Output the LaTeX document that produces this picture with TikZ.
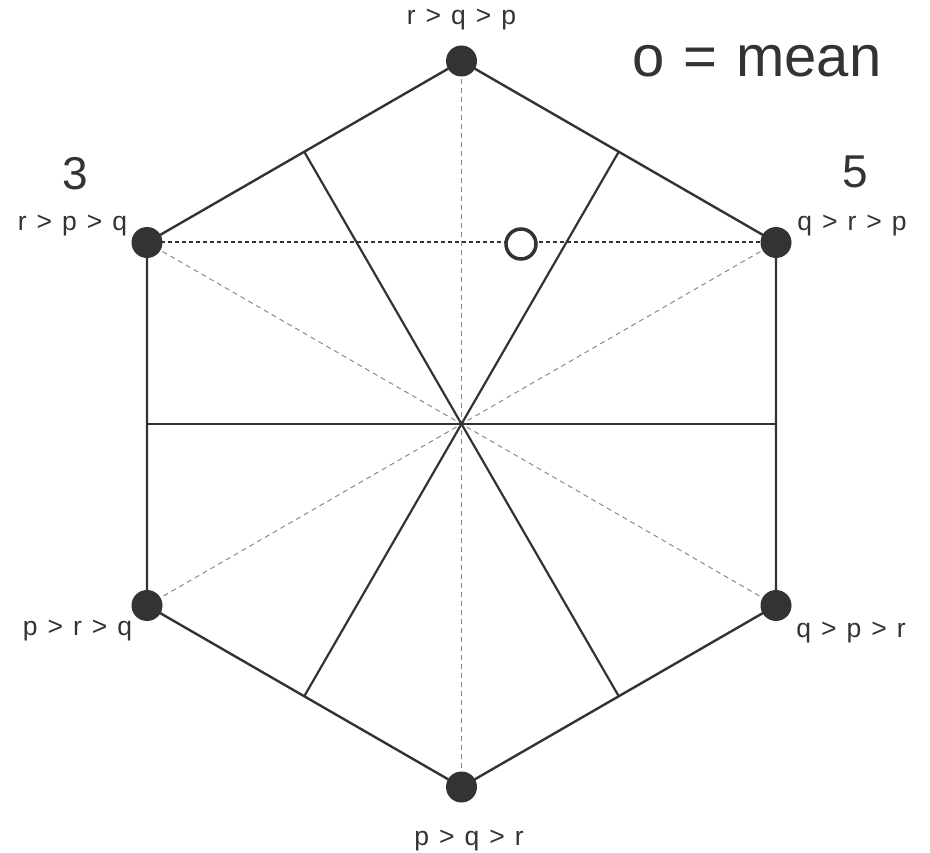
\documentclass[tikz,border=0pt]{standalone}
\usepackage{fontspec}
\setmainfont{Liberation Sans}
\usetikzlibrary{calc}
\definecolor{ink}{HTML}{333333}
\definecolor{lite}{HTML}{8A8A8A}
\begin{document}
\begin{tikzpicture}[x=1pt,y=-1pt,
  edge/.style={draw=ink,line width=2.4pt},
  diag/.style={draw=lite,line width=1pt,dash pattern=on 5pt off 4pt},
  dark/.style={draw=ink,line width=2pt,dash pattern=on 4pt off 3pt},
  vtx/.style={circle,fill=ink,minimum size=31pt,inner sep=0pt},
  lab/.style={text=ink,font={\fontsize{26.5}{28}\selectfont\spaceskip=10pt},inner sep=0pt,anchor=base},
  big/.style={text=ink,font=\fontsize{46}{50}\selectfont,inner sep=0pt}]
\useasboundingbox (0,0) rectangle (930,853);
\coordinate (C) at (461.5,424);
\coordinate (T) at (461.5,61);
\coordinate (B) at (461.5,787);
\coordinate (LT) at (147,242.5);
\coordinate (LB) at (147,605.5);
\coordinate (RT) at (776,242.5);
\coordinate (RB) at (776,605.5);
% midpoints
\coordinate (mUL) at ($(LT)!0.5!(T)$);
\coordinate (mUR) at ($(T)!0.5!(RT)$);
\coordinate (mLL) at ($(LB)!0.5!(B)$);
\coordinate (mLR) at ($(B)!0.5!(RB)$);
\coordinate (mL) at ($(LT)!0.5!(LB)$);
\coordinate (mR) at ($(RT)!0.5!(RB)$);
% dashed diagonals
\draw[diag] (T) -- (B);
\draw[diag] (LT) -- (RB);
\draw[diag] (RT) -- (LB);
\draw[dark] (LT) -- (RT);
% bisectors
\draw[edge,line width=2.2pt] (mL) -- (mR);
\draw[edge,line width=2.2pt] (mUL) -- (mLR);
\draw[edge,line width=2.2pt] (mUR) -- (mLL);
% hexagon
\draw[edge,line join=round] (T) -- (RT) -- (RB) -- (B) -- (LB) -- (LT) -- cycle;
% vertices
\node[vtx] (vT) at (T) {};
\node[vtx] (vB) at (B) {};
\node[vtx] (vLT) at (LT) {};
\node[vtx] (vLB) at (LB) {};
\node[vtx] (vRT) at (RT) {};
\node[vtx] (vRB) at (RB) {};
% mean
\node[circle,draw=ink,line width=3.5pt,fill=white,minimum size=30pt,inner sep=0pt] (mean) at (521,244) {};
% labels
\node[lab] (lT) at (461.5,25) {r > q > p};
\node[lab] (lB) at (469,845) {p > q > r};
\node[lab] (lLT) at (72.5,231) {r > p > q};
\node[lab] (lRT) at (852,231) {q > r > p};
\node[lab] (lLB) at (77.5,635) {p > r > q};
\node[lab] (lRB) at (851,637) {q > p > r};
\node[big] (n3) at (75,174) {3};
\node[big] (n5) at (855,172) {5};
\node[text=ink,font={\fontsize{58}{60}\selectfont\spaceskip=19pt},inner sep=0pt,anchor=base west] (leg) at (632,77) {o = mean};
\end{tikzpicture}
\end{document}
